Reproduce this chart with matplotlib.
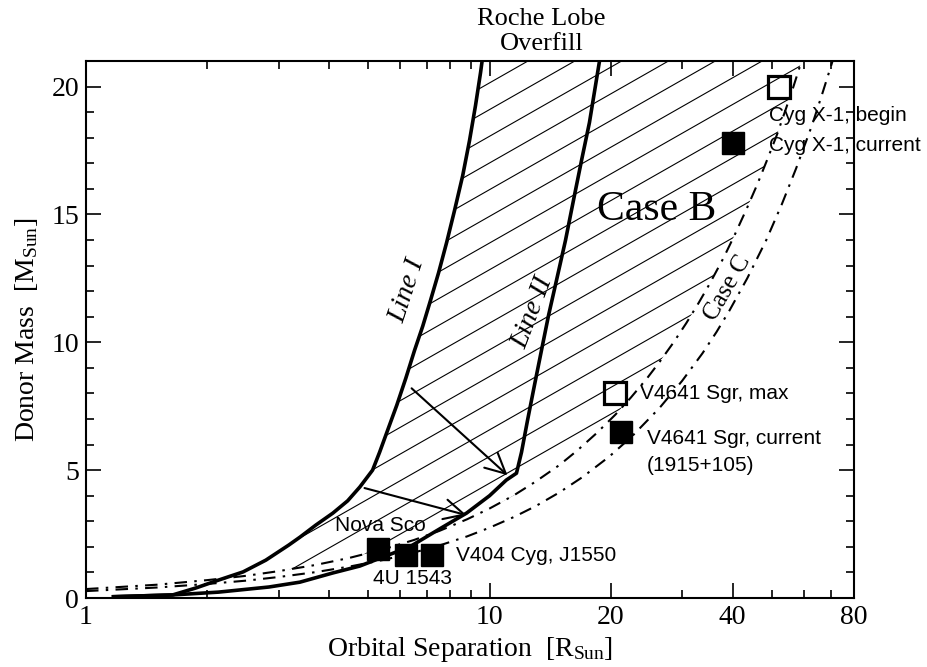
import numpy as np
import matplotlib
matplotlib.use("Agg")
import matplotlib.pyplot as plt
from matplotlib.patches import Polygon
from matplotlib.collections import LineCollection
from matplotlib.ticker import FixedLocator, NullFormatter

plt.rcParams['font.family'] = ['Liberation Serif', 'DejaVu Serif']
plt.rcParams['mathtext.fontset'] = 'custom'
plt.rcParams['mathtext.rm'] = 'Liberation Serif'
plt.rcParams['mathtext.it'] = 'Liberation Serif:italic'

# ---- data ----
line1_x = [1.17, 1.64, 1.87, 2.13, 2.45, 2.79, 3.18, 3.39, 3.71, 4.09, 4.45, 4.77, 5.13,
           5.34, 5.59, 5.89, 6.20, 6.52, 6.83, 7.14, 7.48, 7.83, 8.19, 8.58, 8.92, 9.23, 9.50, 9.66]
line1_y = [0.05, 0.12, 0.39, 0.70, 1.02, 1.48, 2.07, 2.38, 2.85, 3.32, 3.8, 4.34, 5.0,
           5.70, 6.56, 7.54, 8.59, 9.69, 10.63, 11.64, 12.73, 13.91, 15.16, 16.52, 17.89, 19.26, 20.55, 21.4]

line2_x = [1.17, 1.64, 2.13, 2.84, 3.39, 4.09, 4.77, 5.44, 6.34, 7.23, 7.65, 8.77, 10.0, 11.0, 11.66,
           12.0, 12.42, 12.92, 13.45, 14.0, 14.65, 15.42, 16.14, 16.9, 17.68, 18.7, 19.04]
line2_y = [0.05, 0.12, 0.23, 0.43, 0.62, 0.98, 1.25, 1.6, 2.0, 2.54, 2.77, 3.32, 4.0, 4.61, 4.88,
           5.70, 6.95, 8.32, 9.69, 11.05, 12.42, 13.98, 15.55, 17.11, 18.59, 20.94, 21.6]

caseA_x = [1.0, 1.5, 2.0, 2.5, 3.0, 3.7, 4.5, 5.5, 6.5, 7.5, 8.8, 10.0, 11.5, 13.0, 14.9, 16.5,
           18.4, 20.5, 22.4, 24.5, 26.4, 28.5, 30.7, 33.0, 35.0, 38.0, 40.5, 43.3, 46.0, 48.5,
           51.5, 54.3, 56.5, 58.5, 60.5]
caseA_y = [0.35, 0.52, 0.70, 0.87, 1.05, 1.29, 1.57, 1.92, 2.27, 2.62, 3.08, 3.5, 4.02, 4.55, 5.2, 5.77,
           6.44, 7.17, 7.84, 8.57, 9.24, 9.97, 10.74, 11.55, 12.25, 13.3, 14.2, 15.2, 16.15, 17.05,
           18.1, 19.15, 19.95, 20.7, 21.45]

caseB_x = [1.0, 1.5, 2.0, 2.5, 3.0, 3.7, 4.5, 5.5, 6.5, 7.5, 8.8, 10.0, 11.5, 13.0, 14.9, 17.0,
           19.8, 22.5, 26.4, 30.0, 33.7, 36.5, 39.3, 43.5, 48.5, 53.0, 57.5, 63.0, 67.0, 70.6, 72.5]
caseB_y = [0.27, 0.41, 0.55, 0.68, 0.82, 1.01, 1.23, 1.5, 1.78, 2.05, 2.41, 2.75, 3.17, 3.59, 4.13, 4.73,
           5.53, 6.31, 7.44, 8.49, 9.57, 10.4, 11.24, 12.5, 14.0, 15.4, 16.8, 18.5, 19.8, 20.94, 21.55]

open_x = [52.0, 20.5]
open_y = [20.0, 8.0]

filled_x = [40.2, 21.2, 5.3, 6.2, 7.2]
filled_y = [17.8, 6.5, 1.9, 1.7, 1.7]

labels = ["Cyg X-1, begin", "Cyg X-1, current", "V4641 Sgr, max", "V4641 Sgr, current",
          "(1915+105)", "Nova Sco", "4U 1543", "V404 Cyg, J1550"]
label_x = [49.3, 49.3, 23.6, 24.5, 24.5, 4.13, 5.13, 8.25]
label_y = [18.87, 17.7, 8.0, 6.25, 5.2, 2.85, 0.78, 1.68]

arrow_start = [(6.41, 8.2), (4.90, 4.3)]
arrow_end = [(11.08, 4.8), (8.77, 3.24)]

xticks_major = [1, 10, 20, 40, 80]
xticks_minor = [2, 3, 4, 5, 6, 7, 8, 9, 30, 50, 60, 70]
yticks_major = [0, 5, 10, 15, 20]

# ---- figure ----
fig = plt.figure(figsize=(9.28, 6.67), dpi=100)
ax = fig.add_axes([86/928, 1-598/667, (854-86)/928, (598-61)/667])
ax.set_xscale('log')
ax.set_xlim(1, 80)
ax.set_ylim(0, 21)

# hatch region between Line I and Case C boundary (curve A)
g = np.logspace(np.log10(1.2), np.log10(9.6), 2000)
d = np.interp(np.log10(g), np.log10(line1_x), line1_y) - np.interp(np.log10(g), np.log10(caseA_x), caseA_y)
ix = np.where(np.diff(np.sign(d)) > 0)[0][0]
xi = g[ix]
yi = np.interp(np.log10(xi), np.log10(line1_x), line1_y)
l1x = np.array(line1_x); l1y = np.array(line1_y)
cax = np.array(caseA_x); cay = np.array(caseA_y)
m1 = l1x > xi
mA = cax > xi
poly = [(xi, yi)] + list(zip(l1x[m1], l1y[m1])) + list(zip(cax[mA][::-1], cay[mA][::-1]))
patch = Polygon(poly, closed=True, transform=ax.transData, facecolor='none', edgecolor='none')
ax.add_patch(patch)

slope = 0.815
dv = 0.0497
v0 = 0.04
segs = []
k = v0 - 1.0
while k < 1.0:
    segs.append([(0, k), (1, k + slope)])
    k += dv
lc = LineCollection(segs, colors='black', linewidths=0.8, transform=ax.transAxes)
ax.add_collection(lc)
lc.set_clip_path(patch)
lc.set_clip_box(ax.bbox)

ax.plot(line1_x, line1_y, color='black', lw=2.6)
ax.plot(line2_x, line2_y, color='black', lw=2.6)
ax.plot(caseA_x, caseA_y, color='black', lw=1.5, dashes=[6, 3.5, 1.2, 3.5])
ax.plot(caseB_x, caseB_y, color='black', lw=1.5, dashes=[6, 3.5, 1.2, 3.5])

for (s, e) in zip(arrow_start, arrow_end):
    ax.annotate('', xy=e, xytext=s,
                arrowprops=dict(arrowstyle='->', lw=1.5, color='black',
                                mutation_scale=36, shrinkA=0, shrinkB=0))

ax.plot(filled_x, filled_y, 's', color='black', ms=16, zorder=5)
ax.plot(open_x, open_y, 's', mfc='none', mec='black', mew=2.3, ms=16, zorder=5)

for t, x, y in zip(labels, label_x, label_y):
    ax.text(x, y, t, ha='left', va='center', fontsize=15, family='Liberation Sans')

ax.text(26.0, 15.2, 'Case B', ha='center', va='center', fontsize=30)
ax.text(6.27, 12.03, 'Line I', ha='center', va='center', fontsize=20, style='italic',
        rotation=72, rotation_mode='anchor')
ax.text(12.78, 11.17, 'Line II', ha='center', va='center', fontsize=20, style='italic',
        rotation=69, rotation_mode='anchor')
ax.text(38.8, 12.1, 'Case C', ha='center', va='center', fontsize=18,
        rotation=60, rotation_mode='anchor')

ax.annotate('Roche Lobe\nOverfill', xy=(13.45, 1.0), xycoords=('data', 'axes fraction'),
            xytext=(0, 4), textcoords='offset points', ha='center', va='bottom',
            fontsize=19, linespacing=1.2)

ax.xaxis.set_major_locator(FixedLocator(xticks_major))
ax.xaxis.set_minor_locator(FixedLocator(xticks_minor))
ax.xaxis.set_minor_formatter(NullFormatter())
ax.set_xticklabels([str(v) for v in xticks_major])
ax.yaxis.set_major_locator(FixedLocator(yticks_major))
ax.yaxis.set_minor_locator(FixedLocator(range(0, 22)))
ax.tick_params(which='both', direction='in', top=True, right=True, width=1.2, labelsize=20)
ax.tick_params(which='major', length=11, pad=5)
ax.tick_params(which='minor', length=5.5)
for sp in ax.spines.values():
    sp.set_linewidth(1.5)

ax.set_xlabel(r'Orbital Separation  [R$_{\rm Sun}$]', fontsize=20, labelpad=4)
ax.set_ylabel(r'Donor Mass  [M$_{\rm Sun}$]', fontsize=20, labelpad=8)

fig.savefig('out.png', dpi=100)
